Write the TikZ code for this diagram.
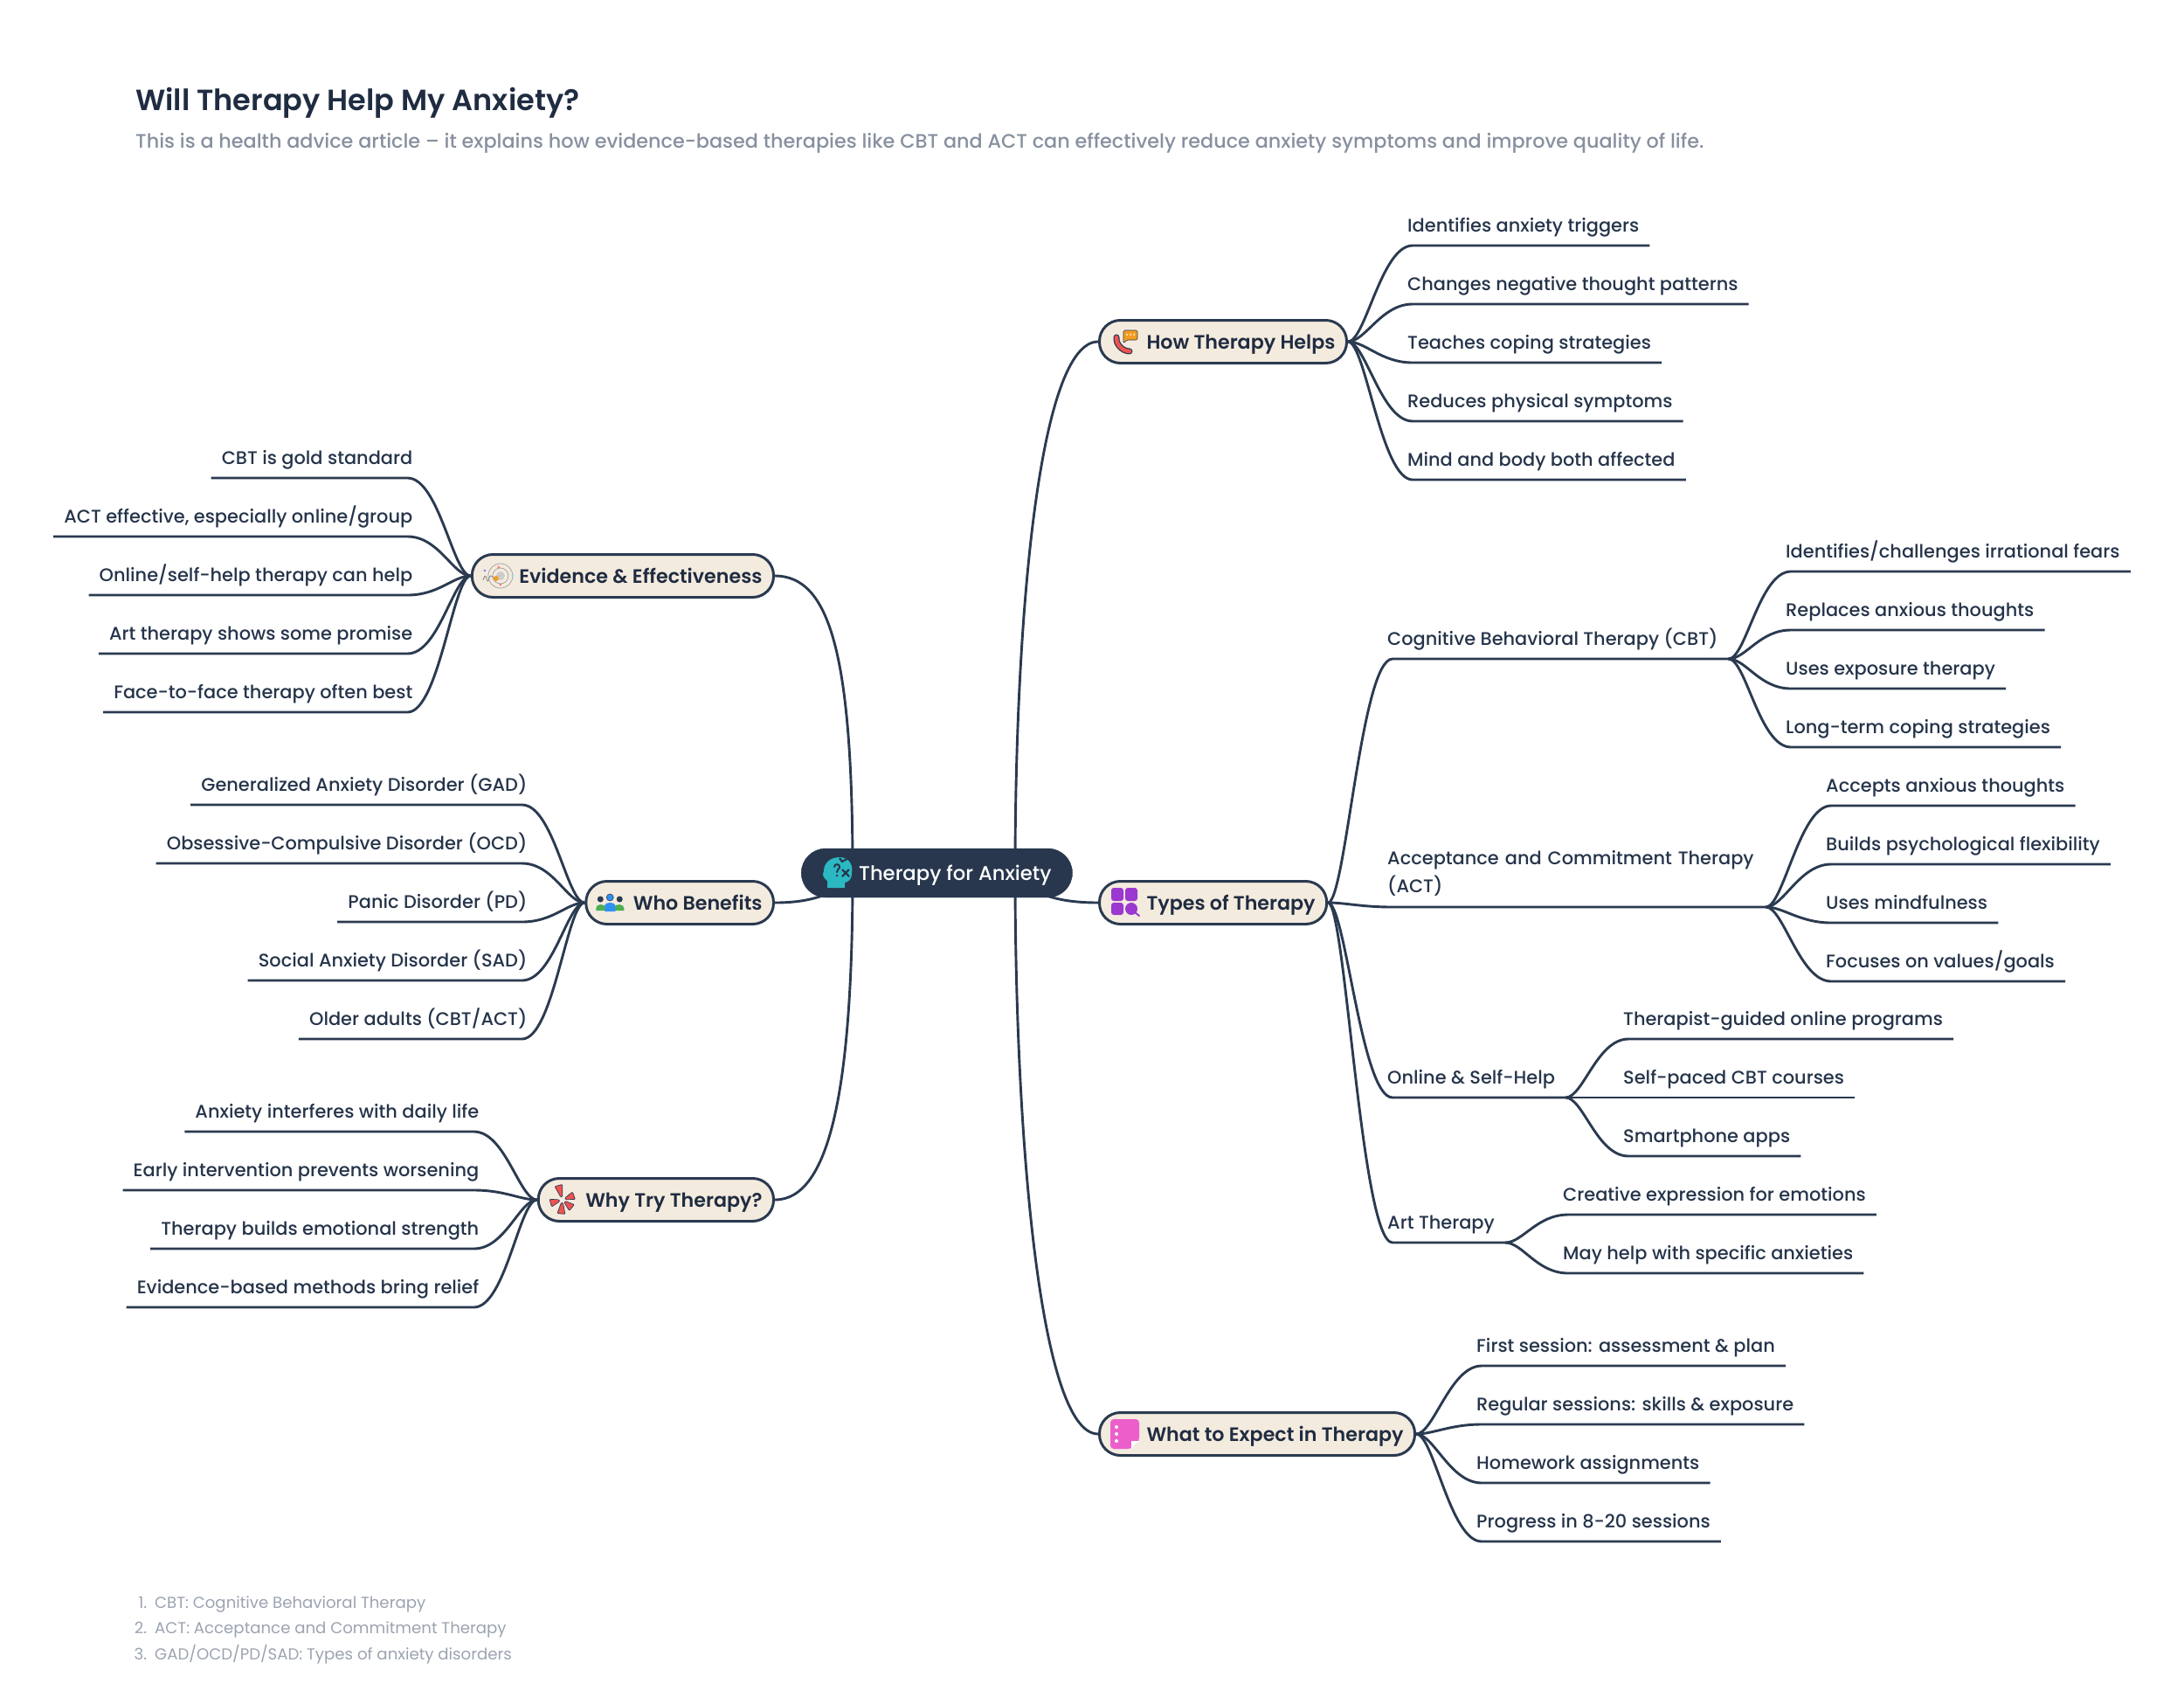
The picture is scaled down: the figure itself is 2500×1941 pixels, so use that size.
\documentclass[tikz,border=0pt]{standalone}
\usepackage{fontspec}
\setmainfont{Poppins}
\newfontfamily\mediumfont{Poppins Medium}
\newfontfamily\semifont{Poppins SemiBold}
\usetikzlibrary{backgrounds,calc}
\definecolor{linkcol}{HTML}{2A3A50}
\definecolor{rootcol}{HTML}{28374E}
\definecolor{inkcol}{HTML}{1F2C41}
\definecolor{leafcol}{HTML}{25344A}
\definecolor{paper}{HTML}{F4EBDF}
\definecolor{subcol}{HTML}{87909F}
\definecolor{notecol}{HTML}{9BA3B0}
\definecolor{tealicon}{HTML}{2BB8C2}
\definecolor{redicon}{HTML}{EF5350}
\definecolor{orangeicon}{HTML}{F39C1F}
\definecolor{blueicon}{HTML}{2E90F0}
\definecolor{greenicon}{HTML}{4CAF50}
\definecolor{purpleicon}{HTML}{9B38CF}
\definecolor{pinkicon}{HTML}{EC5FCB}
\tikzset{
  link/.style={draw=linkcol,line width=2.9pt},
  rlink/.style={link,to path={.. controls +(20,0) and ($(\tikztotarget)+(-18,0)$) .. ($(\tikztotarget)+(18,0)$)}},
  llink/.style={link,to path={.. controls +(-20,0) and ($(\tikztotarget)+(18,0)$) .. ($(\tikztotarget)+(-18,0)$)}},
  root/.style={anchor=west,fill=rootcol,draw=rootcol,rounded corners=28pt,minimum height=56pt,inner xsep=24pt,inner ysep=0pt,text height=21.5pt,text depth=4pt,text=white,font=\mediumfont\fontsize{22.7}{28}\selectfont},
  branch/.style={fill=paper,draw=linkcol,line width=3pt,rounded corners=24pt,minimum height=49pt,inner xsep=13pt,inner ysep=0pt,text height=21pt,text depth=4pt,text=inkcol,font=\semifont\fontsize{22.2}{28}\selectfont},
  rleaf/.style={anchor=south west,inner xsep=12pt,inner ysep=0pt,text height=16pt,text depth=15.5pt,text=leafcol,font=\mediumfont\fontsize{20.9}{32}\selectfont},
  lleaf/.style={rleaf,anchor=south east},
  note/.style={anchor=west,inner sep=0pt,text=notecol,font=\fontsize{18.15}{24}\selectfont}
}
\begin{document}
\begin{tikzpicture}[x=1pt,y=-1pt]
    \useasboundingbox (0,0) rectangle (2500,1941);
    \node[anchor=west,inner sep=0pt,text=inkcol,font=\semifont\fontsize{33.5}{40}\selectfont] (title) at (155,118) {Will Therapy Help My Anxiety?};
    \node[anchor=west,inner sep=0pt,text=subcol,font=\mediumfont\fontsize{22.32}{28}\selectfont] (subtitle) at (155,164) {This is a health advice article – it explains how evidence-based therapies like CBT and ACT can effectively reduce anxiety symptoms and improve quality of life.};

    % root and branches
    \node[root] (anxiety) at (917,999) {\hspace*{42pt}Therapy for Anxiety};
    \node[branch,anchor=west] (how) at (1257,391) {\hspace*{41pt}How Therapy Helps};
    \node[branch,anchor=west] (types) at (1257,1033) {\hspace*{41pt}Types of Therapy};
    \node[branch,anchor=west] (expect) at (1257,1641) {\hspace*{41pt}What to Expect in Therapy};
    \node[branch,anchor=east] (evidence) at (887,659) {\hspace*{41pt}Evidence \& Effectiveness};
    \node[branch,anchor=east] (who) at (887,1033) {\hspace*{41pt}Who Benefits};
    \node[branch,anchor=east] (why) at (887,1373) {\hspace*{41pt}Why Try Therapy?};

    % how therapy helps
    \node[rleaf] (how1) at (1599,281) {Identifies anxiety triggers};
    \node[rleaf] (how2) at (1599,348) {Changes negative thought patterns};
    \node[rleaf] (how3) at (1599,415) {Teaches coping strategies};
    \node[rleaf] (how4) at (1599,482) {Reduces physical symptoms};
    \node[rleaf] (how5) at (1599,549) {Mind and body both affected};

    % types of therapy
    \node[rleaf] (cbt) at (1576,754) {Cognitive Behavioral Therapy (CBT)};
    \node[rleaf,text width=421pt,align=left,text depth=48pt] (act) at (1576,1038) {Acceptance and Commitment Therapy\\(ACT)};
    \node[rleaf] (online) at (1576,1256) {Online \& Self-Help};
    \node[rleaf] (art) at (1576,1422) {Art Therapy};
    \node[rleaf] (cbt1) at (2032,654) {Identifies/challenges irrational fears};
    \node[rleaf] (cbt2) at (2032,721) {Replaces anxious thoughts};
    \node[rleaf] (cbt3) at (2032,788) {Uses exposure therapy};
    \node[rleaf] (cbt4) at (2032,855) {Long-term coping strategies};
    \node[rleaf] (act1) at (2078,922) {Accepts anxious thoughts};
    \node[rleaf] (act2) at (2078,989) {Builds psychological flexibility};
    \node[rleaf] (act3) at (2078,1056) {Uses mindfulness};
    \node[rleaf] (act4) at (2078,1123) {Focuses on values/goals};
    \node[rleaf] (online1) at (1846,1189) {Therapist-guided online programs};
    \node[rleaf] (online2) at (1846,1256) {Self-paced CBT courses};
    \node[rleaf] (online3) at (1846,1323) {Smartphone apps};
    \node[rleaf] (art1) at (1777,1390) {Creative expression for emotions};
    \node[rleaf] (art2) at (1777,1457) {May help with specific anxieties};

    % what to expect
    \node[rleaf] (expect1) at (1678,1563) {First session: assessment \& plan};
    \node[rleaf] (expect2) at (1678,1630) {Regular sessions: skills \& exposure};
    \node[rleaf] (expect3) at (1678,1697) {Homework assignments};
    \node[rleaf] (expect4) at (1678,1764) {Progress in 8-20 sessions};

    % evidence
    \node[lleaf] (evidence1) at (484.5,547) {CBT is gold standard};
    \node[lleaf] (evidence2) at (484.5,614) {ACT effective, especially online/group};
    \node[lleaf] (evidence3) at (484.5,681) {Online/self-help therapy can help};
    \node[lleaf] (evidence4) at (484.5,748) {Art therapy shows some promise};
    \node[lleaf] (evidence5) at (484.5,815) {Face-to-face therapy often best};

    % who benefits
    \node[lleaf] (who1) at (615.5,921) {Generalized Anxiety Disorder (GAD)};
    \node[lleaf] (who2) at (615.5,988) {Obsessive-Compulsive Disorder (OCD)};
    \node[lleaf] (who3) at (615.5,1055) {Panic Disorder (PD)};
    \node[lleaf] (who4) at (615.5,1122) {Social Anxiety Disorder (SAD)};
    \node[lleaf] (who5) at (615.5,1189) {Older adults (CBT/ACT)};

    % why try
    \node[lleaf] (why1) at (560.5,1295) {Anxiety interferes with daily life};
    \node[lleaf] (why2) at (560.5,1362) {Early intervention prevents worsening};
    \node[lleaf] (why3) at (560.5,1429) {Therapy builds emotional strength};
    \node[lleaf] (why4) at (560.5,1496) {Evidence-based methods bring relief};

    % notes
    \node[note] (note1) at (177,1836) {\llap{1.\hspace{9pt}}CBT: Cognitive Behavioral Therapy};
    \node[note] (note2) at (177,1865) {\llap{2.\hspace{9pt}}ACT: Acceptance and Commitment Therapy};
    \node[note] (note3) at (177,1893) {\llap{3.\hspace{9pt}}GAD/OCD/PD/SAD: Types of anxiety disorders};

    % links
    \coordinate (rootright) at (1162,999);
    \coordinate (rootleft) at (976,999);
    \begin{scope}[on background layer]
    \draw[link] (rootright) .. controls (1162,700) and (1190,391) .. (how.west);
    \draw[link] (rootright) .. controls (1180,1025) and (1215,1033) .. (types.west);
    \draw[link] (rootright) .. controls (1162,1300) and (1190,1641) .. (expect.west);
    \draw[link] (rootleft) .. controls (976,750) and (950,659) .. (evidence.east);
    \draw[link] (rootleft) .. controls (958,1025) and (925,1033) .. (who.east);
    \draw[link] (rootleft) .. controls (976,1245) and (950,1373) .. (why.east);
    \end{scope}

    \draw[rlink] (how.east) to (how1.south west) -- (how1.south east);
    \draw[rlink] (how.east) to (how2.south west) -- (how2.south east);
    \draw[rlink] (how.east) to (how3.south west) -- (how3.south east);
    \draw[rlink] (how.east) to (how4.south west) -- (how4.south east);
    \draw[rlink] (how.east) to (how5.south west) -- (how5.south east);

    \draw[rlink] (types.east) to (cbt.south west) -- (cbt.south east);
    \draw[rlink] (types.east) to (act.south west) -- (act.south east);
    \draw[rlink] (types.east) to (online.south west) -- (online.south east);
    \draw[rlink] (types.east) to (art.south west) -- (art.south east);
    \draw[rlink] (cbt.south east) to (cbt1.south west) -- (cbt1.south east);
    \draw[rlink] (cbt.south east) to (cbt2.south west) -- (cbt2.south east);
    \draw[rlink] (cbt.south east) to (cbt3.south west) -- (cbt3.south east);
    \draw[rlink] (cbt.south east) to (cbt4.south west) -- (cbt4.south east);
    \draw[rlink] (act.south east) to (act1.south west) -- (act1.south east);
    \draw[rlink] (act.south east) to (act2.south west) -- (act2.south east);
    \draw[rlink] (act.south east) to (act3.south west) -- (act3.south east);
    \draw[rlink] (act.south east) to (act4.south west) -- (act4.south east);
    \draw[rlink] (online.south east) to (online1.south west) -- (online1.south east);
    \draw[rlink] (online.south east) to (online2.south west) -- (online2.south east);
    \draw[rlink] (online.south east) to (online3.south west) -- (online3.south east);
    \draw[rlink] (art.south east) to (art1.south west) -- (art1.south east);
    \draw[rlink] (art.south east) to (art2.south west) -- (art2.south east);

    \draw[rlink] (expect.east) to (expect1.south west) -- (expect1.south east);
    \draw[rlink] (expect.east) to (expect2.south west) -- (expect2.south east);
    \draw[rlink] (expect.east) to (expect3.south west) -- (expect3.south east);
    \draw[rlink] (expect.east) to (expect4.south west) -- (expect4.south east);

    \draw[llink] (evidence.west) to (evidence1.south east) -- (evidence1.south west);
    \draw[llink] (evidence.west) to (evidence2.south east) -- (evidence2.south west);
    \draw[llink] (evidence.west) to (evidence3.south east) -- (evidence3.south west);
    \draw[llink] (evidence.west) to (evidence4.south east) -- (evidence4.south west);
    \draw[llink] (evidence.west) to (evidence5.south east) -- (evidence5.south west);

    \draw[llink] (who.west) to (who1.south east) -- (who1.south west);
    \draw[llink] (who.west) to (who2.south east) -- (who2.south west);
    \draw[llink] (who.west) to (who3.south east) -- (who3.south west);
    \draw[llink] (who.west) to (who4.south east) -- (who4.south west);
    \draw[llink] (who.west) to (who5.south east) -- (who5.south west);

    \draw[llink] (why.west) to (why1.south east) -- (why1.south west);
    \draw[llink] (why.west) to (why2.south east) -- (why2.south west);
    \draw[llink] (why.west) to (why3.south east) -- (why3.south west);
    \draw[llink] (why.west) to (why4.south east) -- (why4.south west);

    % icons
    \begin{scope}[shift={(anxiety.west)}]
    \fill[tealicon] (30,17) -- (30,9) .. controls (25,5) and (24,2) .. (26,-2) .. controls (26,-12) and (34,-18) .. (44,-18) .. controls (54,-18) and (60,-10) .. (58,0) .. controls (58,8) and (54,10) .. (50,11) -- (50,17) -- cycle;
    \draw[rootcol,line width=2pt,line cap=round] (38,-7) .. controls (38,-11) and (45,-11) .. (44,-6) .. controls (43,-4) and (41,-4) .. (41,-1);
    \fill[rootcol] (41,3) circle (1.4);
    \draw[rootcol,line width=2.2pt] (47,-4) -- (55,4) (55,-4) -- (47,4) (44,-17) -- (47,-13) -- (54,-17);
    \end{scope}

    \begin{scope}[shift={(how.west)}]
    \draw[linkcol,line width=7pt,line cap=round] (21,-5) .. controls (20,3) and (28,11) .. (36,11);
    \draw[redicon,line width=4.5pt,line cap=round] (21,-5) .. controls (20,3) and (28,11) .. (36,11);
    \fill[orangeicon,draw=linkcol,line width=0.6pt,rounded corners=1.5pt] (29,-13) -- (45,-13) -- (45,-2) -- (33,-2) -- (29,2) -- cycle;
    \fill[white] (33,-8) circle (1) (37,-8) circle (1) (41,-8) circle (1);
    \end{scope}

    \begin{scope}[shift={(evidence.west)}]
    \draw[gray!70,line width=0.8pt] (34,0) circle (14) (34,0) circle (9);
    \fill[gray!40] (34,0) circle (5);
    \fill[orangeicon] (29,3) circle (3);
    \fill[blue!50] (16,-6) circle (1.5);
    \fill[red!55] (32,-10) circle (1.5) (34,10) circle (1.5);
    \fill[cyan!50] (48,0) circle (1.5);
    \draw[gray,line width=0.8pt] (14,5) .. controls (16,-1) and (17,-1) .. (18,3) .. controls (19,7) and (20,7) .. (21,3) .. controls (22,-1) and (23,-1) .. (26,2);
    \end{scope}

    \begin{scope}[shift={(who.west)}]
    \fill[linkcol] (18,-4) circle (3.5) (40,-4) circle (3.5);
    \fill[greenicon] (13,9) -- (13,6) .. controls (13,1) and (23,1) .. (24,5) -- (24,9) -- cycle (34,5) .. controls (35,1) and (45,1) .. (45,6) -- (45,9) -- (34,9) -- cycle;
    \fill[blueicon,draw=linkcol,line width=0.6pt] (29,-6) circle (4);
    \fill[blueicon] (23,10) -- (23,3) .. controls (23,-1) and (35,-1) .. (35,3) -- (35,10) -- cycle;
    \end{scope}

    \begin{scope}[shift={(why.west)}]
    \foreach \a/\r in {105/17,20/14,-40/14,-95/16,195/14} {
      \fill[redicon,draw=linkcol,line width=0.7pt,rounded corners=1pt,rotate around={\a:(29,0)}] (32.5,-1) -- (29+\r,-4.5) -- (29+\r,4.5) -- (32.5,1) -- cycle;
    }
    \end{scope}

    \begin{scope}[shift={(types.west)}]
    \fill[purpleicon,rounded corners=3pt] (15,-17) rectangle (29,-2) (31,-17) rectangle (45,-2) (15,0) rectangle (29,14);
    \fill[purpleicon] (38,7) circle (7);
    \draw[purpleicon,line width=2pt,line cap=round] (42,11) -- (47,15);
    \end{scope}

    \begin{scope}[shift={(expect.west)}]
    \fill[pinkicon,rounded corners=4pt] (14,-17) -- (47,-17) -- (47,8) -- (38,17) -- (14,17) -- cycle;
    \fill[white] (21,-8) circle (2) (21,0) circle (2) (21,8) circle (2);
    \fill[white] (38,17) -- (38,8) -- (47,8) -- cycle;
    \end{scope}
\end{tikzpicture}
\end{document}
